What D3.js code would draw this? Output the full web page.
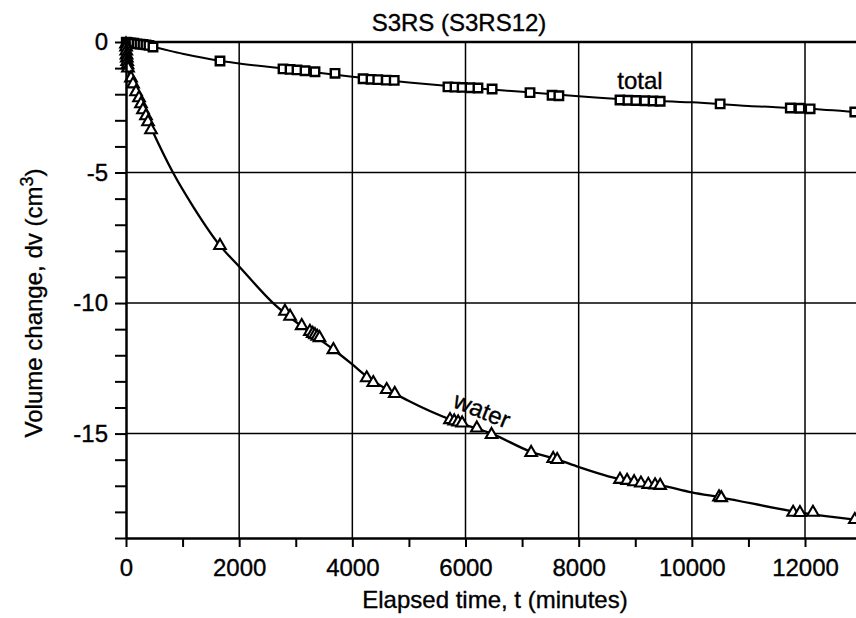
<!DOCTYPE html>
<html>
<head>
<meta charset="utf-8">
<script src="https://cdn.jsdelivr.net/npm/d3@7"></script>
<style>
  body { margin: 0; background: #fff; }
  text { font-family: "Liberation Sans", Arial, Helvetica, sans-serif; fill: #000; stroke: #000; stroke-width: 0.35px; }
</style>
</head>
<body>
<svg id="chart" width="856" height="618"></svg>
<script>
// measured points, total volume change (squares)
const totalT = [5, 15, 35, 88, 140, 195, 247, 300, 353, 406, 477, 1661,
  2775, 2899, 3022, 3164, 3340, 3694, 4190, 4330, 4450, 4600, 4740,
  5690, 5815, 5940, 6080, 6220, 6470, 7140, 7530, 7650,
  8730, 8870, 9010, 9170, 9315, 9440, 10500, 11740, 11910, 12090, 12880];
const totalV = [-0.01, -0.02, -0.03, -0.04, -0.05, -0.07, -0.08, -0.09, -0.11, -0.13, -0.19, -0.73,
  -1.03, -1.05, -1.07, -1.10, -1.14, -1.20, -1.41, -1.43, -1.44, -1.46, -1.47,
  -1.72, -1.73, -1.74, -1.75, -1.76, -1.80, -1.94, -2.04, -2.06,
  -2.22, -2.23, -2.24, -2.25, -2.26, -2.27, -2.37, -2.53, -2.54, -2.56, -2.68];

// measured points, water volume change (triangles)
const waterT = [0, 2, 5, 9, 14, 20, 27, 35, 88, 124, 177, 230, 265, 300, 353, 389, 442, 1661,
  2810, 2900, 3105, 3250, 3300, 3340, 3380, 3420, 3665, 4254, 4370, 4607, 4750,
  5726, 5800, 5870, 5940, 6200, 6460, 7160, 7550, 7620,
  8730, 8855, 8980, 9100, 9230, 9350, 9440, 10480, 10520, 11790, 11910, 12140, 12880];
const waterV = [-0.08, -0.2, -0.35, -0.5, -0.62, -0.75, -0.88, -1.0, -1.38, -1.61, -1.91, -2.14, -2.37, -2.6, -2.83, -3.06, -3.37, -7.8,
  -10.32, -10.51, -10.87, -11.09, -11.17, -11.22, -11.28, -11.33, -11.79, -12.87, -13.05, -13.32, -13.47,
  -14.47, -14.52, -14.56, -14.6, -14.79, -15.04, -15.73, -15.96, -16.0,
  -16.76, -16.8, -16.85, -16.9, -16.95, -16.97, -16.99, -17.43, -17.46, -18.02, -18.03, -18.02, -18.3];

// fitted curves
const totalFitT = [0, 500, 1000, 1661, 2000, 3000, 4000, 5000, 6000, 7000, 8000, 9000, 10000, 11000, 12000, 13000];
const totalFitV = [0, -0.2, -0.45, -0.72, -0.82, -1.07, -1.33, -1.55, -1.74, -1.91, -2.08, -2.22, -2.31, -2.45, -2.55, -2.7];
const waterFitT = [0, 10, 20, 40, 90, 180, 285, 460, 830, 1200, 1661, 2000, 2600, 3300, 3660, 4000, 4260,
  5000, 5800, 6460, 7160, 7620, 8000, 8730, 9440, 10000, 10500, 11900, 12880, 13000];
const waterFitV = [0, -0.45, -0.7, -1.05, -1.45, -1.95, -2.53, -3.37, -5.0, -6.35, -7.8, -8.6, -10.0, -11.2, -11.77, -12.35, -12.82,
  -13.75, -14.52, -15.0, -15.7, -15.99, -16.28, -16.75, -16.97, -17.25, -17.44, -18.02, -18.3, -18.33];

const xTicks = d3.range(0, 13001, 1000);
const xGrid = [2000, 4000, 6000, 8000, 10000, 12000];
const yTicks = d3.range(0, -19.5, -1);
const yGrid = [-5, -10, -15];

const svg = d3.select('#chart');
const W = 856;

const x = d3.scaleLinear().domain([0, 13000]).range([126, 861.6]);
const y = d3.scaleLinear().domain([0, -19]).range([42, 538]);

// grid
svg.append('g').selectAll('line.vg')
  .data(xGrid).enter().append('line')
  .attr('x1', d => x(d)).attr('x2', d => x(d))
  .attr('y1', y(0)).attr('y2', y(-19))
  .attr('stroke', '#000').attr('stroke-width', 1.5);
svg.append('g').selectAll('line.hg')
  .data(yGrid).enter().append('line')
  .attr('x1', x(0)).attr('x2', W)
  .attr('y1', d => y(d)).attr('y2', d => y(d))
  .attr('stroke', '#000').attr('stroke-width', 1.5);

// top frame
svg.append('line')
  .attr('x1', x(0)).attr('x2', W)
  .attr('y1', y(0)).attr('y2', y(0))
  .attr('stroke', '#000').attr('stroke-width', 2.5);

// fitted lines
const line = d3.line().x(d => x(d[0])).y(d => y(d[1])).curve(d3.curveMonotoneX);
svg.append('path')
  .datum(totalFitT.map((t, i) => [t, totalFitV[i]]))
  .attr('d', line).attr('fill', 'none').attr('stroke', '#000').attr('stroke-width', 2);
svg.append('path')
  .datum(waterFitT.map((t, i) => [t, waterFitV[i]]))
  .attr('d', line).attr('fill', 'none').attr('stroke', '#000').attr('stroke-width', 2.3);

// markers
svg.append('g').selectAll('path.sq')
  .data(totalT.map((t, i) => [t, totalV[i]])).enter().append('path')
  .attr('d', d3.symbol(d3.symbolSquare, 72))
  .attr('transform', d => 'translate(' + x(d[0]) + ',' + y(d[1]) + ')')
  .attr('fill', '#fff').attr('stroke', '#000').attr('stroke-width', 2.4);

svg.append('g').selectAll('path.tri')
  .data(waterT.map((t, i) => [t, waterV[i]])).enter().append('path')
  .attr('d', d3.symbol(d3.symbolTriangle, 58))
  .attr('transform', d => 'translate(' + x(d[0]) + ',' + y(d[1]) + ')')
  .attr('fill', '#fff').attr('stroke', '#000').attr('stroke-width', 2.1);

// axes
const yAxis = d3.axisLeft(y).tickValues(yTicks).tickSize(11).tickSizeOuter(0).tickPadding(7)
  .tickFormat(d => (d % 5 === 0 ? String(d) : ''));
const gy = svg.append('g').attr('transform', 'translate(' + x(0) + ',0)').call(yAxis);

const xAxis = d3.axisBottom(x).tickValues(xTicks).tickSize(9).tickSizeOuter(0).tickPadding(12)
  .tickFormat(d => (d % 2000 === 0 ? String(d) : ''));
const gx = svg.append('g').attr('transform', 'translate(0,' + y(-19) + ')').call(xAxis);

[gx, gy].forEach(function (g) {
  g.select('.domain').attr('stroke-width', 2.5);
  g.selectAll('.tick line').attr('stroke-width', 2);
  g.selectAll('.tick text').style('font-size', '24px').attr('fill', '#000');
});

// texts
svg.append('text')
  .attr('x', 459).attr('y', 31)
  .attr('text-anchor', 'middle')
  .style('font-size', '24px')
  .text('S3RS (S3RS12)');

svg.append('text')
  .attr('x', 495).attr('y', 608)
  .attr('text-anchor', 'middle')
  .style('font-size', '24px')
  .text('Elapsed time, t (minutes)');

const yl = svg.append('text')
  .attr('transform', 'translate(42,303) rotate(-90)')
  .attr('text-anchor', 'middle')
  .style('font-size', '24px');
yl.append('tspan').text('Volume change, dv (cm');
yl.append('tspan').attr('dy', -9).style('font-size', '18px').text('3');
yl.append('tspan').attr('dy', 9).text(')');

svg.append('text')
  .attr('x', 640).attr('y', 89)
  .attr('text-anchor', 'middle')
  .style('font-size', '24px')
  .text('total');

svg.append('text')
  .attr('transform', 'translate(482,410) rotate(22)')
  .attr('text-anchor', 'middle')
  .attr('dy', '0.35em')
  .style('font-size', '24px')
  .text('water');
</script>
</body>
</html>
